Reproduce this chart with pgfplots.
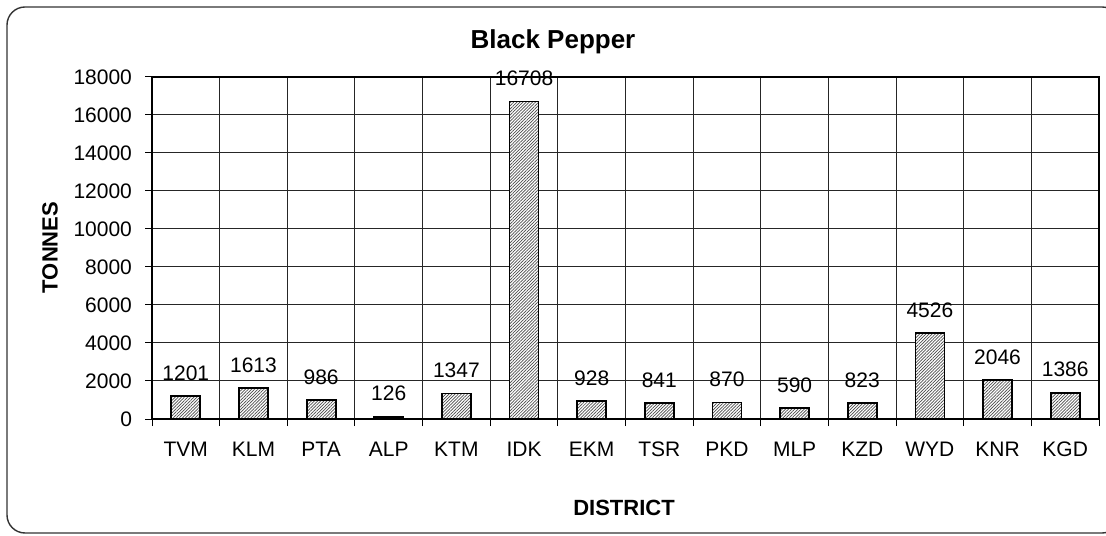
\documentclass[border=0pt]{standalone}
\usepackage{fontspec}
\setmainfont{Liberation Sans}
\usepackage{pgfplots}
\pgfplotsset{compat=1.18}
\usetikzlibrary{patterns.meta}

\begin{document}
\begin{tikzpicture}
% page size: 1106x535 px at 0.5pt per px
\path[use as bounding box] (0,0) rectangle (553pt,267.5pt);
\draw[black!80, line width=0.7pt, rounded corners=9pt] (3.5pt,1pt) rectangle (560pt,264pt);

\begin{axis}[
    at={(76pt,58pt)}, anchor=south west,
    scale only axis, width=473.5pt, height=171pt,
    xmin=-0.5, xmax=13.5, ymin=0, ymax=18000,
    ytick distance=2000, scaled y ticks=false,
    xtick={-0.5,0.5,...,13.5}, xticklabels={},
    extra x ticks={0,1,...,13},
    extra x tick labels={TVM,KLM,PTA,ALP,KTM,IDK,EKM,TSR,PKD,MLP,KZD,WYD,KNR,KGD},
    extra x tick style={grid=none, major tick length=0pt,
        xticklabel style={yshift=-8pt}},
    tick align=outside, tick pos=left, major tick length=3.5pt,
    grid=major, grid style={black!85, line width=0.5pt},
    axis line style={black, line width=0.6pt},
    tick style={black, line width=0.5pt},
    ticklabel style={font=\fontsize{10.5}{12}\selectfont},
    yticklabel style={xshift=-3pt},
    /pgf/number format/1000 sep={},
    /pgf/number format/assume math mode=true,
    ybar, bar width=14.5pt,
    nodes near coords,
    every node near coord/.append style={font=\fontsize{10.5}{12}\selectfont, yshift=4pt},
]
\addplot[draw=black, line width=0.9pt, fill=white,
    postaction={pattern={Lines[angle=45, distance=1.1pt, line width=0.35pt]}, pattern color=black!70}]
coordinates {
    (0,1201)(1,1613)(2,986)(3,126)(4,1347)(5,16708)(6,928)
    (7,841)(8,870)(9,590)(10,823)(11,4526)(12,2046)(13,1386)
};
\end{axis}

\node[font=\bfseries\fontsize{13}{15}\selectfont] at (276.5pt,246.5pt) {Black Pepper};
\node[font=\bfseries\fontsize{11}{13}\selectfont, rotate=90] at (25pt,143.75pt) {TONNES};
\node[font=\bfseries\fontsize{11}{13}\selectfont] at (312pt,13.5pt) {DISTRICT};
\end{tikzpicture}
\end{document}
